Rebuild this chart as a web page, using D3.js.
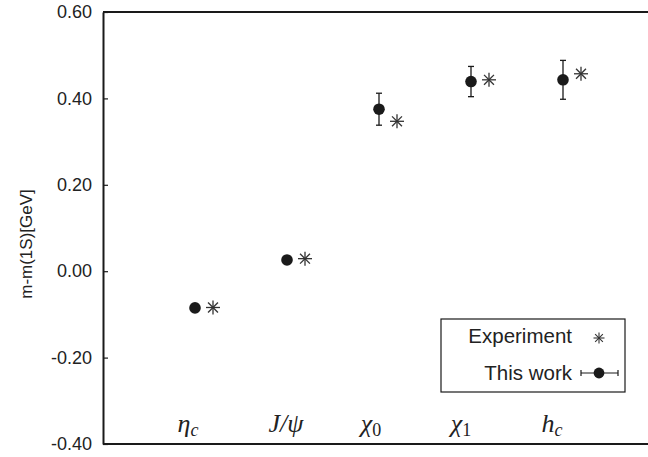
<!DOCTYPE html>
<html>
<head>
<meta charset="utf-8">
<script src="https://cdn.jsdelivr.net/npm/d3@7"></script>
<style>
  html, body { margin: 0; padding: 0; background: #fff; }
  svg { display: block; }
  .tick-label { font-family: "Liberation Sans", Arial, sans-serif; font-size: 18px; fill: #222; }
  .axis-title { font-family: "Liberation Sans", Arial, sans-serif; font-size: 17px; fill: #222; }
  .cat { font-family: "Liberation Serif", "Times New Roman", serif; font-size: 26px; fill: #222; }
  .legend-text { font-family: "Liberation Sans", Arial, sans-serif; font-size: 20.5px; fill: #222; }
</style>
</head>
<body>
<svg id="chart" width="648" height="457"></svg>
<script>
// Charmonium states, mass splitting relative to the 1S spin average
const states = ["eta_c", "J/psi", "chi_0", "chi_1", "h_c"];
const experiment = [-0.084, 0.029, 0.347, 0.443, 0.457];
const thisWork = [-0.085, 0.026, 0.375, 0.439, 0.443];
const thisWorkErr = [0.006, 0.008, 0.037, 0.035, 0.045];
const yTicks = [-0.40, -0.20, 0.00, 0.20, 0.40, 0.60];

const svg = d3.select("#chart");
const W = 648, H = 457;
const plotLeft = 103, plotTop = 12, plotBottom = 444;

const x = d3.scalePoint().domain(states).range([195, 563]);
const y = d3.scaleLinear().domain([-0.40, 0.60]).range([plotBottom, plotTop]);
const starOffset = 18;
const ink = "#1a1a1a";

// frame: left, top, bottom
svg.append("line").attr("x1", plotLeft).attr("x2", W).attr("y1", plotTop).attr("y2", plotTop)
  .attr("stroke", ink).attr("stroke-width", 2);
svg.append("line").attr("x1", plotLeft).attr("x2", W).attr("y1", plotBottom).attr("y2", plotBottom)
  .attr("stroke", ink).attr("stroke-width", 2);

// y axis with inward ticks, plain hyphen for negatives
const fmt = d3.format(".2f");
const yAxis = d3.axisLeft(y).tickValues(yTicks).tickSizeInner(-5).tickSizeOuter(0)
  .tickPadding(11).tickFormat(d => fmt(d).replace("\u2212", "-"));
const gy = svg.append("g").attr("transform", `translate(${plotLeft},0)`).call(yAxis);
gy.attr("font-size", null).attr("font-family", null);
gy.select(".domain").attr("stroke", ink).attr("stroke-width", 2);
gy.selectAll(".tick line").attr("stroke", ink).attr("stroke-width", 1.2);
gy.selectAll(".tick text").attr("class", "tick-label").attr("fill", ink);

// y axis title
svg.append("text").attr("class", "axis-title")
  .attr("transform", `translate(32,244) rotate(-90)`)
  .attr("text-anchor", "middle")
  .text("m-m(1S)[GeV]");

// category labels (italic serif with subscripts)
const labelParts = {
  "eta_c": [["η", true, false], ["c", true, true]],
  "J/psi": [["J/ψ", true, false]],
  "chi_0": [["χ", true, false], ["0", false, true]],
  "chi_1": [["χ", true, false], ["1", false, true]],
  "h_c":   [["h", true, false], ["c", true, true]]
};
const labelShift = { "eta_c": -7, "J/psi": -1, "chi_0": -8, "chi_1": -10, "h_c": -11 };
states.forEach(s => {
  const t = svg.append("text").attr("class", "cat")
    .attr("x", x(s) + labelShift[s]).attr("y", 432).attr("text-anchor", "middle");
  labelParts[s].forEach(([txt, it, sub]) => {
    t.append("tspan")
      .attr("font-style", it ? "italic" : "normal")
      .attr("font-size", sub ? 18 : 26)
      .attr("dy", sub ? 4 : 0)
      .text(txt);
  });
});

// asterisk marker
function star(g, cx, cy, r, w) {
  [0, 45, 90, 135].forEach(a => {
    const rad = a * Math.PI / 180;
    g.append("line")
      .attr("x1", cx - r * Math.cos(rad)).attr("y1", cy - r * Math.sin(rad))
      .attr("x2", cx + r * Math.cos(rad)).attr("y2", cy + r * Math.sin(rad))
      .attr("stroke", "#333").attr("stroke-width", w);
  });
}

// error bar + dot marker
function errDot(g, cx, cy, yLo, yHi, cap) {
  g.append("line").attr("x1", cx).attr("x2", cx).attr("y1", yLo).attr("y2", yHi)
    .attr("stroke", ink).attr("stroke-width", 1.3);
  [yLo, yHi].forEach(yy => g.append("line")
    .attr("x1", cx - cap).attr("x2", cx + cap).attr("y1", yy).attr("y2", yy)
    .attr("stroke", ink).attr("stroke-width", 1.3));
  g.append("circle").attr("cx", cx).attr("cy", cy).attr("r", 5.8).attr("fill", ink);
}

const marks = svg.append("g");
states.forEach((s, i) => {
  errDot(marks, x(s), y(thisWork[i]),
    y(thisWork[i] - thisWorkErr[i]), y(thisWork[i] + thisWorkErr[i]), 3);
  star(marks, x(s) + starOffset, y(experiment[i]), 7, 1.3);
});

// legend
const lg = svg.append("g");
lg.append("rect").attr("x", 441).attr("y", 319).attr("width", 184).attr("height", 73)
  .attr("fill", "#fff").attr("stroke", ink).attr("stroke-width", 1.2);
lg.append("text").attr("class", "legend-text").attr("x", 572).attr("y", 343)
  .attr("text-anchor", "end").text("Experiment");
star(lg, 599, 338, 5.5, 1.1);
lg.append("text").attr("class", "legend-text").attr("x", 572).attr("y", 380)
  .attr("text-anchor", "end").text("This work");
lg.append("line").attr("x1", 581).attr("x2", 618).attr("y1", 373).attr("y2", 373)
  .attr("stroke", ink).attr("stroke-width", 1.2);
[581, 618].forEach(xx => lg.append("line").attr("x1", xx).attr("x2", xx)
  .attr("y1", 370).attr("y2", 376).attr("stroke", ink).attr("stroke-width", 1.2));
lg.append("circle").attr("cx", 599).attr("cy", 373).attr("r", 5.4).attr("fill", ink);
</script>
</body>
</html>
